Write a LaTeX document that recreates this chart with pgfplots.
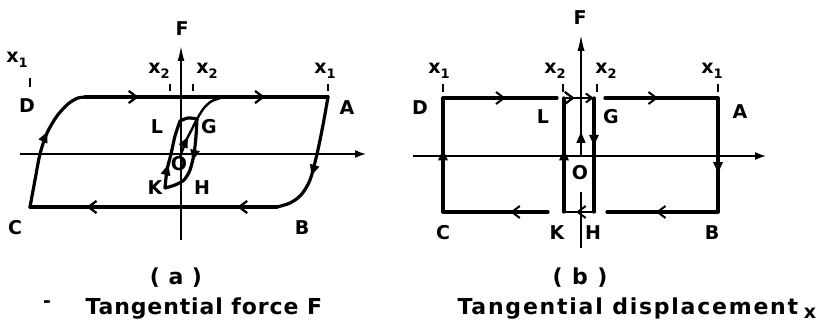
\documentclass[border=0pt]{standalone}
\usepackage{pgfplots}
\pgfplotsset{compat=1.18}
\usepackage{fontspec}
\setmainfont{DejaVu Sans}
\usetikzlibrary{arrows.meta,decorations.markings}

% arrow heads placed along a path
\tikzset{
  barb/.style={postaction={decorate},decoration={markings,
      mark=at position #1 with {\arrow{Straight Barb[length=8pt,width=12pt,line width=2pt]}}}},
  tri/.style={postaction={decorate},decoration={markings,
      mark=at position #1 with {\arrow{Triangle[length=11pt,width=9pt]}}}},
}
\newcommand\lab{\fontsize{19}{19}\selectfont\bfseries}
\newcommand\capa{\fontsize{22}{22}\selectfont\bfseries\addfontfeature{LetterSpace=4}}
\newcommand\capb{\fontsize{22}{22}\selectfont\bfseries\addfontfeature{LetterSpace=8}}
\newcommand\xs[1]{x\raisebox{-0.45ex}{\fontsize{13}{13}\selectfont #1}}

\begin{document}
\begin{tikzpicture}
\begin{axis}[
  scale only axis, width=825pt, height=323pt,
  xmin=0, xmax=825, ymin=0, ymax=323, y dir=reverse,
  hide axis, clip=false,
  loopline/.style={black, line width=3.2pt, line join=round, line cap=round},
  axline/.style={black, line width=1.6pt},
]
\path (axis cs:0,0) rectangle (axis cs:825,323);

% ---------------- (a) tangential force ----------------
% axes
\addplot[axline, -{Latex[length=11pt,width=8pt]}] coordinates {(20,154) (366,154)};
\addplot[axline, -{Latex[length=15pt,width=7pt]}] coordinates {(181,240) (181,46)};
% outer hysteresis loop D-A-B-C
\addplot[loopline, barb=0.22, postaction={decorate}, decoration={markings,
  mark=at position 0.74 with {\arrow{Straight Barb[length=8pt,width=12pt,line width=2pt]}}}]
  coordinates {(85,97) (328,97)};
\addplot[loopline, smooth, tri=0.62]
  coordinates {(328,97) (323,125) (317,154) (310,180) (301,195) (290,203) (277,207)};
\addplot[loopline, barb=0.16, postaction={decorate}, decoration={markings,
  mark=at position 0.77 with {\arrow{Straight Barb[length=8pt,width=12pt,line width=2pt]}}}]
  coordinates {(277,207) (30,207)};
\addplot[loopline, smooth, tri=0.58]
  coordinates {(30,207) (35,180) (40,154) (47,133) (57,116) (68,104) (78,98) (88,97)};
% virgin curve O-G joining the upper branch
\addplot[loopline, line width=2.4pt, smooth, tri=0.28]
  coordinates {(180,157) (186,141) (192,129) (197,119) (204,108) (212,101) (224,97)};
% inner loop G-H-K-L
\addplot[loopline, smooth, tri=0.5]
  coordinates {(197,119) (196,136) (194,154) (190,170) (184,180) (175,185) (165,188)};
\addplot[loopline, smooth, tri=0.35]
  coordinates {(165,188) (167,170) (171,154) (175,136) (180,121)};
\addplot[loopline, smooth] coordinates {(180,121) (188,118) (197,119)};
% displacement marks
\addplot[axline] coordinates {(30,78) (30,87)};
\addplot[axline] coordinates {(170,84) (170,91)};
\addplot[axline] coordinates {(193,84) (193,91)};
\addplot[axline] coordinates {(328,84) (328,91)};

% labels (a)
\node[font=\lab] at (axis cs:182,29) {F};
\node[font=\lab] at (axis cs:17,60) {\xs{1}};
\node[font=\lab] at (axis cs:159,71) {\xs{2}};
\node[font=\lab] at (axis cs:207,71) {\xs{2}};
\node[font=\lab] at (axis cs:325,71) {\xs{1}};
\node[font=\lab] at (axis cs:27,106) {D};
\node[font=\lab] at (axis cs:347,108) {A};
\node[font=\lab] at (axis cs:157,127) {L};
\node[font=\lab] at (axis cs:209,127) {G};
\node[font=\lab] at (axis cs:179,164) {O};
\node[font=\lab] at (axis cs:155,188) {K};
\node[font=\lab] at (axis cs:202,188) {H};
\node[font=\lab] at (axis cs:15,228) {C};
\node[font=\lab] at (axis cs:302,228) {B};
\node[font=\capa] at (axis cs:176,278) {( a )};
\node[font=\lab] at (axis cs:47,304) {-};
\node[font=\capa, anchor=base west] at (axis cs:82,315) {Tangential force F};

% ---------------- (b) tangential displacement ----------------
\addplot[axline, -{Latex[length=11pt,width=8pt]}] coordinates {(413,156) (766,156)};
\addplot[axline, tri=0.2, -{Latex[length=15pt,width=7pt]}] coordinates {(581,156) (581,36)};
\addplot[axline] coordinates {(581,192) (581,248)};
% outer rectangle D-A-B-C
\addplot[loopline, barb=0.55] coordinates {(443,98) (557,98)};
\addplot[loopline, barb=0.47] coordinates {(605,98) (718,98)};
\addplot[loopline, tri=0.66] coordinates {(718,98) (718,212)};
\addplot[loopline, barb=0.56] coordinates {(718,212) (607,212)};
\addplot[loopline, barb=0.36] coordinates {(548,212) (443,212)};
\addplot[loopline, tri=0.55] coordinates {(443,212) (443,98)};
% inner rectangle G-H-K-L
\addplot[loopline, tri=0.55] coordinates {(564,212) (564,98)};
\addplot[loopline, line width=2.4pt, barb=0.35, postaction={decorate}, decoration={markings,
  mark=at position 0.98 with {\arrow{Straight Barb[length=6pt,width=9pt,line width=1.8pt]}}}]
  coordinates {(564,98) (594,98)};
\addplot[loopline, tri=0.42] coordinates {(594,98) (594,212)};
\addplot[loopline, line width=2.4pt, barb=0.6] coordinates {(594,212) (564,212)};
% displacement marks
\addplot[axline] coordinates {(443,84) (443,92)};
\addplot[axline] coordinates {(563,84) (563,92)};
\addplot[axline] coordinates {(597,84) (597,92)};
\addplot[axline] coordinates {(718,84) (718,92)};

% labels (b)
\node[font=\lab] at (axis cs:580,18) {F};
\node[font=\lab] at (axis cs:439,71) {\xs{1}};
\node[font=\lab] at (axis cs:555,71) {\xs{2}};
\node[font=\lab] at (axis cs:606,71) {\xs{2}};
\node[font=\lab] at (axis cs:712,71) {\xs{1}};
\node[font=\lab] at (axis cs:420,108) {D};
\node[font=\lab] at (axis cs:740,112) {A};
\node[font=\lab] at (axis cs:543,117) {L};
\node[font=\lab] at (axis cs:611,117) {G};
\node[font=\lab] at (axis cs:580,173) {O};
\node[font=\lab] at (axis cs:443,233) {C};
\node[font=\lab] at (axis cs:557,233) {K};
\node[font=\lab] at (axis cs:593,233) {H};
\node[font=\lab] at (axis cs:712,233) {B};
\node[font=\capb] at (axis cs:580,278) {( b )};
\node[font=\capb, anchor=base west] at (axis cs:454,315) {Tangential displacement};
\node[font=\lab] at (axis cs:810,313) {x};
\end{axis}
\end{tikzpicture}
\end{document}
